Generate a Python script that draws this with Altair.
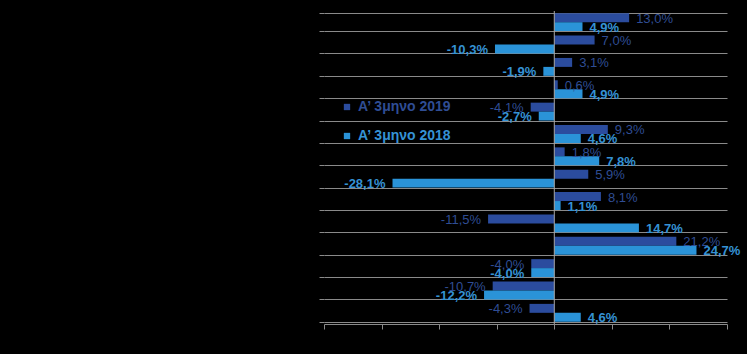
import altair as alt
import pandas as pd

categories = [str(i) for i in range(1, 15)]
series = ["Α’ 3μηνο 2019", "Α’ 3μηνο 2018"]
v2019 = [13.0, 7.0, 3.1, 0.6, -4.1, 9.3, 1.8, 5.9, 8.1, -11.5, 21.2, -4.0, -10.7, -4.3]
v2018 = [4.9, -10.3, -1.9, 4.9, -2.7, 4.6, 7.8, -28.1, 1.1, 14.7, 24.7, -4.0, -12.2, 4.6]
x_ticks = [-40, -30, -20, -10, 0, 10, 20, 30]

bar_colors = ["#2b4c9e", "#2a93d8"]
label_colors = ["#2f4d94", "#3592d4"]

rows = []
for c, a, b in zip(categories, v2019, v2018):
    rows.append({"cat": c, "series": series[0], "value": a})
    rows.append({"cat": c, "series": series[1], "value": b})
df = pd.DataFrame(rows)

FONT = "Liberation Sans"
GRID = "#8a8a8a"

y_enc = alt.Y(
    "cat:N", sort=categories,
    scale=alt.Scale(paddingInner=0.2, paddingOuter=0.1),
    axis=alt.Axis(title=None, labels=False, domain=False, ticks=True, tickSize=5,
                  tickColor=GRID, tickBand="extent", grid=True, gridColor=GRID,
                  gridWidth=1),
)
yoff_enc = alt.YOffset("series:N", sort=series,
                       scale=alt.Scale(paddingInner=0, paddingOuter=0))
x_enc = alt.X(
    "value:Q", scale=alt.Scale(domain=[-40, 30], nice=False, zero=False),
    axis=alt.Axis(title=None, labels=False, values=x_ticks, tickSize=5,
                  tickColor=GRID, domainColor=GRID, grid=False),
)

base = alt.Chart(df).encode(y=y_enc, yOffset=yoff_enc, x=x_enc)

bars = base.mark_bar().encode(
    color=alt.Color(
        "series:N", sort=series,
        scale=alt.Scale(domain=series, range=bar_colors),
        legend=alt.Legend(
            title=None, orient="none", legendX=16, legendY=89, padding=0,
            symbolType="square", symbolSize=40, symbolStrokeWidth=0,
            labelFont=FONT, labelFontSize=14, labelFontWeight="bold",
            labelColor={"expr": "indexof(datum.label, '2019') >= 0 ? '%s' : '%s'" % (label_colors[0], label_colors[1])},
            labelOffset=4, rowPadding=15,
        ),
    )
)

labelled = base.transform_calculate(
    lbl="(datum.value < 0 ? '-' : '') + replace(format(abs(datum.value), '.1f'), '.', ',') + '%'"
)

texts = []
for i, s in enumerate(series):
    weight = "normal" if i == 0 else "bold"
    for positive in (True, False):
        cond = f"datum.series == '{s}' && datum.value {'>=' if positive else '<'} 0"
        t = labelled.transform_filter(cond).mark_text(
            align="left" if positive else "right",
            baseline="middle",
            dx=7 if positive else -7,
            dy=1,
            font=FONT, fontSize=13, fontWeight=weight, color=label_colors[i],
        ).encode(text="lbl:N")
        texts.append(t)

zero = alt.Chart(pd.DataFrame({"z": [0]})).mark_rule(color="#a8a8a8", strokeWidth=1).encode(
    x=alt.X("z:Q")
)

chart = alt.layer(bars, zero, *texts).properties(
    width=403, height=313,
    background="black",
    padding={"left": 324, "top": 11, "right": 20, "bottom": 30},
    autosize=alt.AutoSizeParams(type="none"),
).configure_view(strokeWidth=0)

chart.save("out.html", embed_options={"renderer": "svg", "actions": False})
